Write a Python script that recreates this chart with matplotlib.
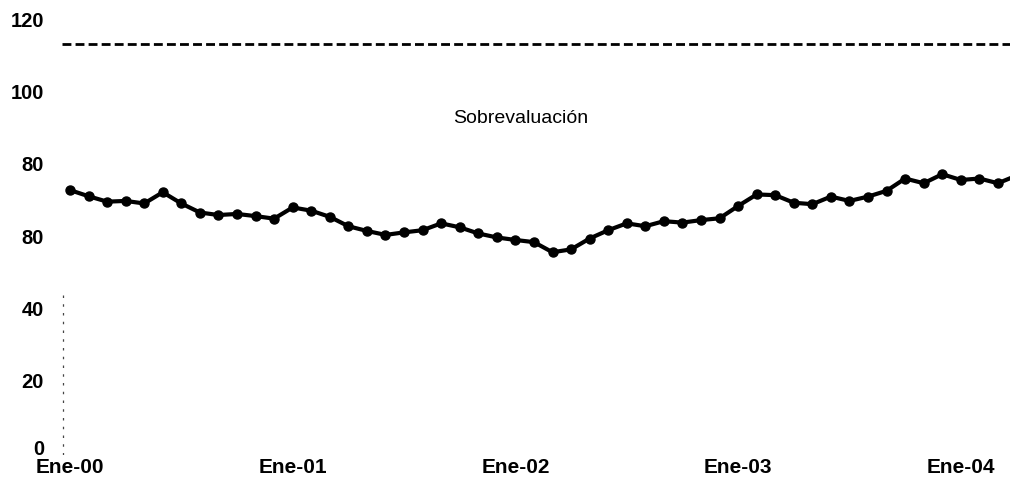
import numpy as np
import matplotlib
matplotlib.use("Agg")
import matplotlib.pyplot as plt
from matplotlib.transforms import ScaledTranslation

# monthly index, Ene-00 .. Abr-04
valores = [73.3, 71.6, 70.1, 70.3, 69.6, 72.7, 69.6, 67.1, 66.4, 66.7, 66.1, 65.4,
           68.5, 67.6, 65.9, 63.3, 62.0, 60.9, 61.6, 62.2, 64.1, 63.0, 61.3, 60.2,
           59.5, 58.9, 56.1, 56.9, 59.9, 62.2, 64.1, 63.3, 64.7, 64.3, 65.0, 65.5,
           68.9, 72.1, 71.9, 69.8, 69.4, 71.5, 70.3, 71.5, 73.1, 76.5, 75.2, 77.7,
           76.1, 76.5, 75.2, 77.3]
umbral = 113.6
x_ticks = [0, 12, 24, 36, 48]
x_labels = ["Ene-00", "Ene-01", "Ene-02", "Ene-03", "Ene-04"]
y_ticks = [0, 20, 40, 60, 80, 100, 120]
y_labels = ["0", "20", "40", "80", "80", "100", "120"]

plt.rcParams["font.family"] = ["Liberation Sans", "DejaVu Sans"]

fig = plt.figure(figsize=(10.10, 4.91), dpi=100)
ax = fig.add_axes([62 / 1010, 36 / 491, 948 / 1010, 455 / 491])

x = np.arange(len(valores))
ax.plot(x, valores, color="black", lw=3.0, marker="o", ms=6.5, clip_on=True)
ax.axhline(umbral, color="black", lw=2.0, dashes=(3.2, 1.5))
# broken left axis remnant
ax.plot([-0.38, -0.38], [0, 45], color="#444444", lw=0.9, dashes=(2, 5))

ax.set_xlim(-0.43, 50.65)
ax.set_ylim(0, 125.9)
for s in ax.spines.values():
    s.set_visible(False)
ax.set_xticks(x_ticks)
ax.set_xticklabels(x_labels, fontsize=15, fontweight="bold")
ax.set_yticks(y_ticks)
ax.set_yticklabels(y_labels, fontsize=14.5, fontweight="bold")
ax.tick_params(length=0)
ax.tick_params(axis="x", pad=2)
ax.tick_params(axis="y", pad=13)
for lbl in ax.get_yticklabels():
    lbl.set_va("center")
zero = ax.get_yticklabels()[0]
zero.set_transform(zero.get_transform() + ScaledTranslation(0, 4 / 72, fig.dpi_scale_trans))

ax.text(24.3, 93.2, "Sobrevaluación", fontsize=14, ha="center", va="center")

fig.savefig("out.png", dpi=100)
